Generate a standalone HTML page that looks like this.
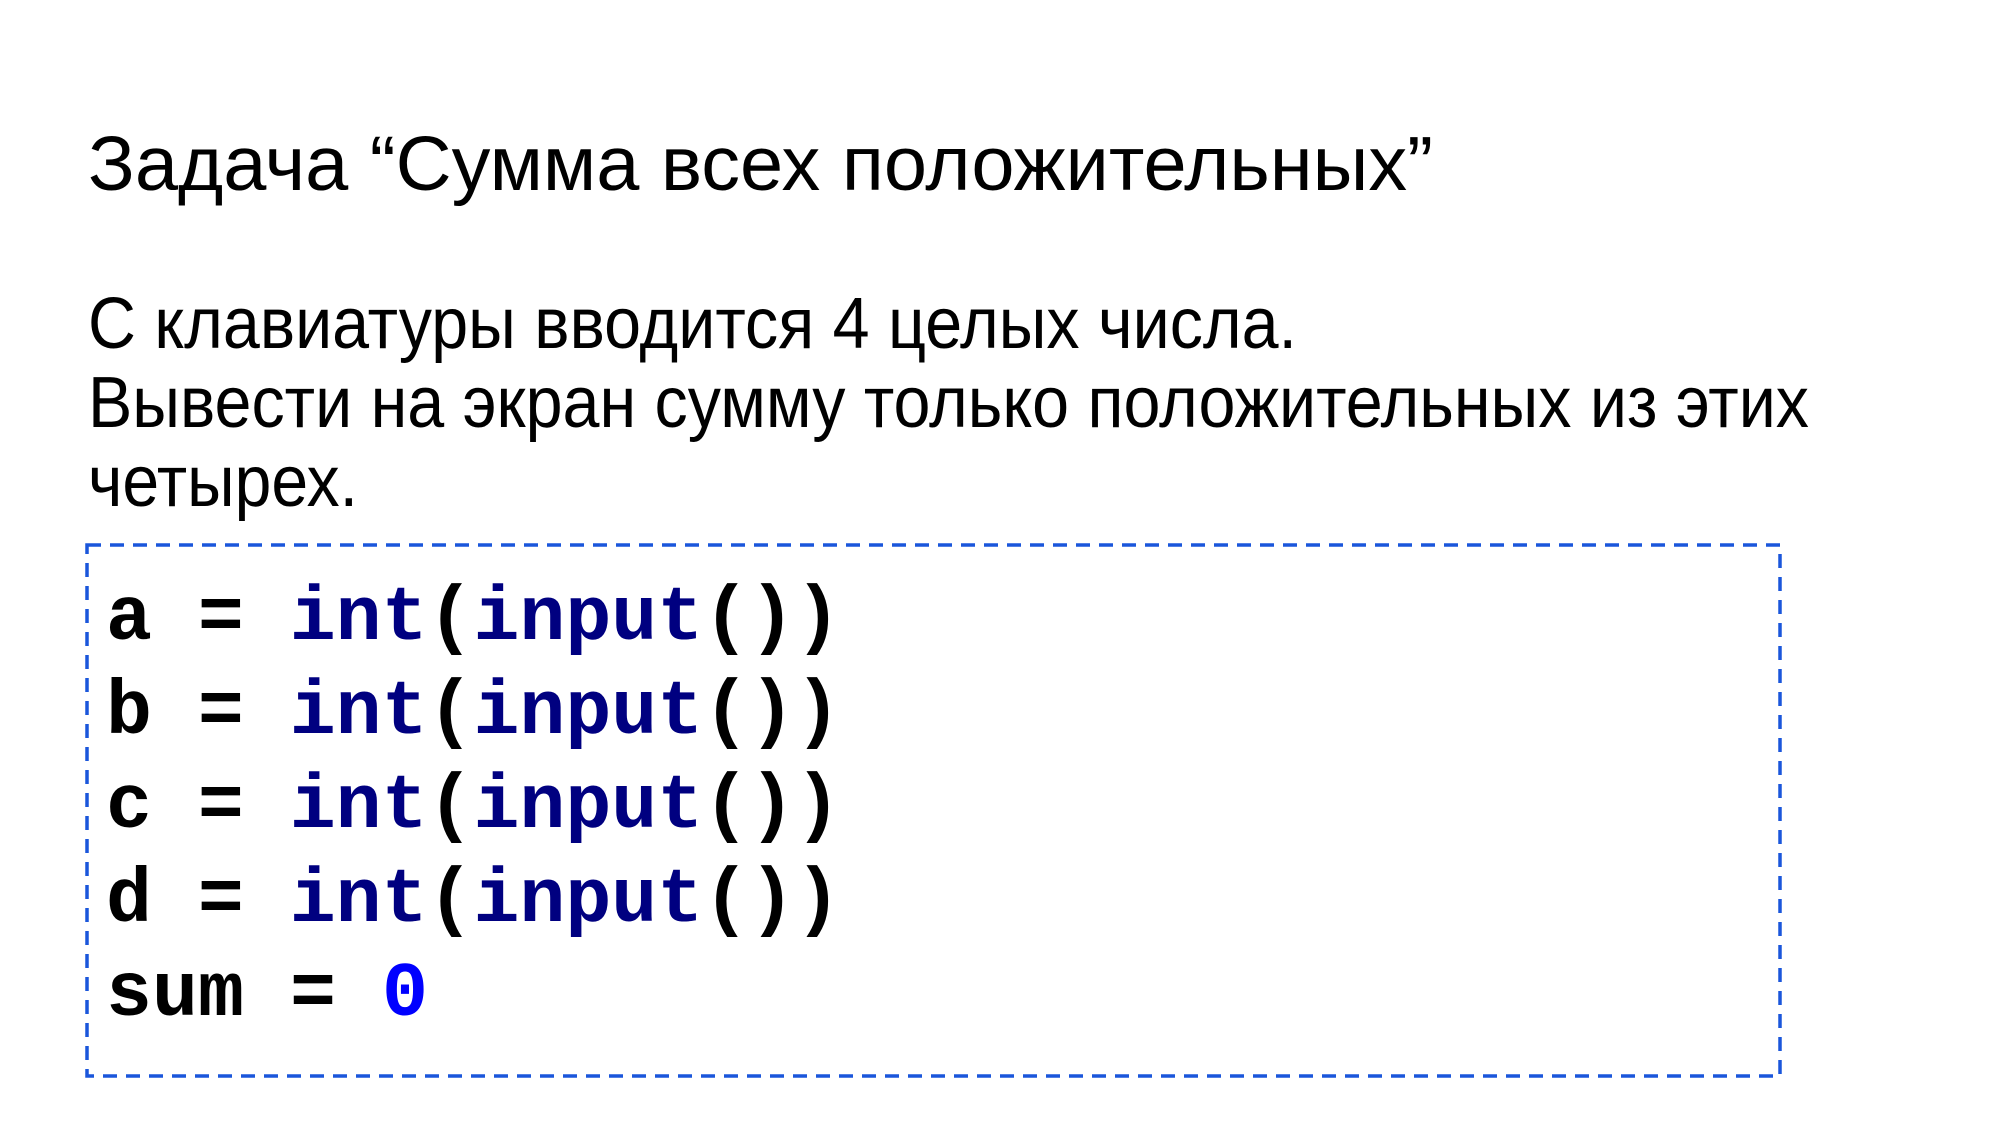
<!DOCTYPE html>
<html><head><meta charset="utf-8"><style>
html,body{margin:0;padding:0;background:#fff;width:2000px;height:1125px;overflow:hidden}
</style></head><body>
<svg width="2000" height="1125" xmlns="http://www.w3.org/2000/svg">
<g font-family="'Liberation Sans', sans-serif" fill="#000">
<text x="88" y="190" font-size="77" textLength="1345" lengthAdjust="spacingAndGlyphs">Задача “Сумма всех положительных”</text>
<text x="88" y="348" font-size="72" textLength="1209" lengthAdjust="spacingAndGlyphs">С клавиатуры вводится 4 целых числа.</text>
<text x="88" y="427" font-size="72" textLength="1721" lengthAdjust="spacingAndGlyphs">Вывести на экран сумму только положительных из этих</text>
<text x="88" y="506" font-size="72" textLength="270" lengthAdjust="spacingAndGlyphs">четырех.</text>
</g>
<rect x="87" y="545" width="1693" height="531" fill="none" stroke="#1a56db" stroke-width="3.5" stroke-dasharray="14,9"/>
<g font-family="'Liberation Mono', monospace" font-weight="bold" font-size="77" xml:space="preserve">
<text x="106" y="639" textLength="735" lengthAdjust="spacingAndGlyphs"><tspan fill="#000">a = </tspan><tspan fill="#000080">int</tspan><tspan fill="#000">(</tspan><tspan fill="#000080">input</tspan><tspan fill="#000">())</tspan></text>
<text x="106" y="733" textLength="735" lengthAdjust="spacingAndGlyphs"><tspan fill="#000">b = </tspan><tspan fill="#000080">int</tspan><tspan fill="#000">(</tspan><tspan fill="#000080">input</tspan><tspan fill="#000">())</tspan></text>
<text x="106" y="827" textLength="735" lengthAdjust="spacingAndGlyphs"><tspan fill="#000">c = </tspan><tspan fill="#000080">int</tspan><tspan fill="#000">(</tspan><tspan fill="#000080">input</tspan><tspan fill="#000">())</tspan></text>
<text x="106" y="921" textLength="735" lengthAdjust="spacingAndGlyphs"><tspan fill="#000">d = </tspan><tspan fill="#000080">int</tspan><tspan fill="#000">(</tspan><tspan fill="#000080">input</tspan><tspan fill="#000">())</tspan></text>
<text x="106" y="1015" textLength="322" lengthAdjust="spacingAndGlyphs"><tspan fill="#000">sum = </tspan><tspan fill="#0000ff">0</tspan></text>
</g>
</svg>
</body></html>
